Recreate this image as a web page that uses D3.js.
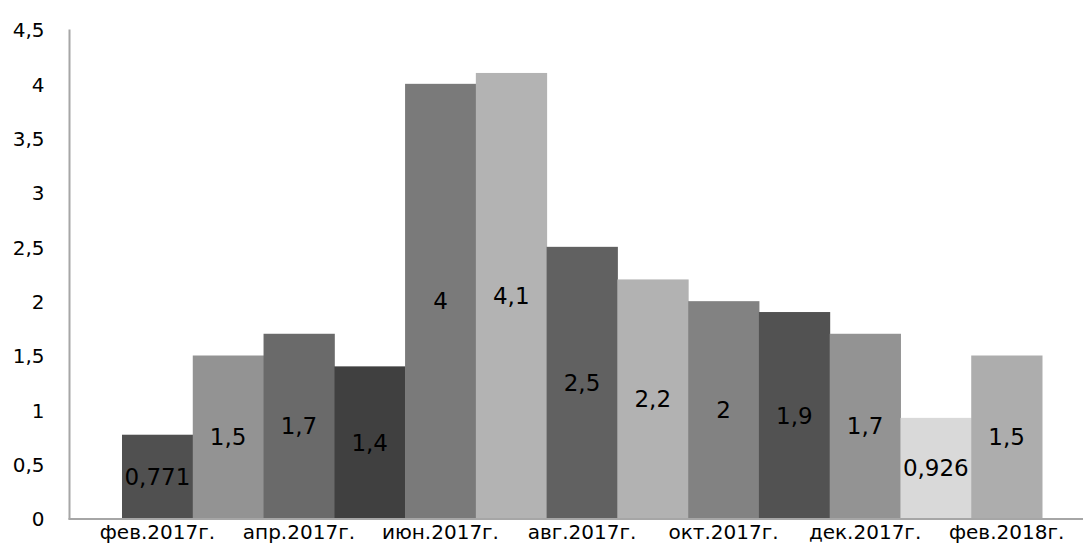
<!DOCTYPE html>
<html><head><meta charset="utf-8">
<script src="https://cdn.jsdelivr.net/npm/d3@7"></script>
<style>
html,body{margin:0;padding:0;background:#fff;}
text{font-family:"DejaVu Sans",sans-serif;fill:#000;}
</style></head>
<body><svg id="c" width="1083" height="547"></svg>
<script>
const categories = ["фев.2017г.","мар.2017г.","апр.2017г.","май.2017г.","июн.2017г.","июл.2017г.","авг.2017г.","сен.2017г.","окт.2017г.","ноя.2017г.","дек.2017г.","янв.2018г.","фев.2018г."];
const values = [0.771, 1.5, 1.7, 1.4, 4, 4.1, 2.5, 2.2, 2, 1.9, 1.7, 0.926, 1.5];
const valueLabels = ["0,771","1,5","1,7","1,4","4","4,1","2,5","2,2","2","1,9","1,7","0,926","1,5"];
const yTicks = [0, 0.5, 1, 1.5, 2, 2.5, 3, 3.5, 4, 4.5];
const barColors = ["#505050","#939393","#6a6a6a","#404040","#7a7a7a","#b3b3b3","#616161","#b2b2b2","#828282","#525252","#939393","#d9d9d9","#adadad"];

const svg = d3.select("#c");
const x = d3.scaleBand().domain(categories).range([122, 1042]).padding(0);
const y = d3.scaleLinear().domain([0, 4.5]).range([518.5, 29.5]);

// bars
svg.append("g").selectAll("rect").data(values).join("rect")
  .attr("x", (d,i)=>x(categories[i]))
  .attr("y", d=>y(d))
  .attr("width", x.bandwidth()+0.5)
  .attr("height", d=>y(0)-y(d))
  .attr("fill", (d,i)=>barColors[i]);

// axes
const yAxis = d3.axisLeft(y).tickValues(yTicks).tickSize(0).tickPadding(0)
  .tickFormat(d=>String(d).replace(".", ","));
const gy = svg.append("g").attr("transform","translate(69.5,0)").call(yAxis);
gy.select(".domain").remove();
gy.selectAll("text").attr("x", -25).attr("dy","0.36em").style("font-size","20px").style("font-family","'DejaVu Sans'");

svg.append("line").attr("x1",69.5).attr("x2",69.5).attr("y1",y(4.5)).attr("y2",y(0)+1)
  .attr("stroke","#a6a6a6").attr("stroke-width",2);

const xAxis = d3.axisBottom(x).tickSize(0).tickPadding(0)
  .tickFormat((d,i)=> i%2===0 ? d : "");
const gx = svg.append("g").attr("transform",`translate(0,${y(0)})`).call(xAxis);
gx.select(".domain").remove();
gx.selectAll("text").attr("y", 20.5).attr("dy","0").style("font-size","20px").style("font-family","'DejaVu Sans'");

svg.append("line").attr("x1",68.5).attr("x2",1083).attr("y1",y(0)+0.5).attr("y2",y(0)+0.5)
  .attr("stroke","#a6a6a6").attr("stroke-width",2);

// value labels
svg.append("g").selectAll("text").data(values).join("text")
  .attr("x",(d,i)=>x(categories[i])+x.bandwidth()/2)
  .attr("y", d=>(y(d)+y(0))/2)
  .attr("dy","0.36em")
  .attr("text-anchor","middle")
  .style("font-size","23px")
  .text((d,i)=>valueLabels[i]);
</script></body></html>
